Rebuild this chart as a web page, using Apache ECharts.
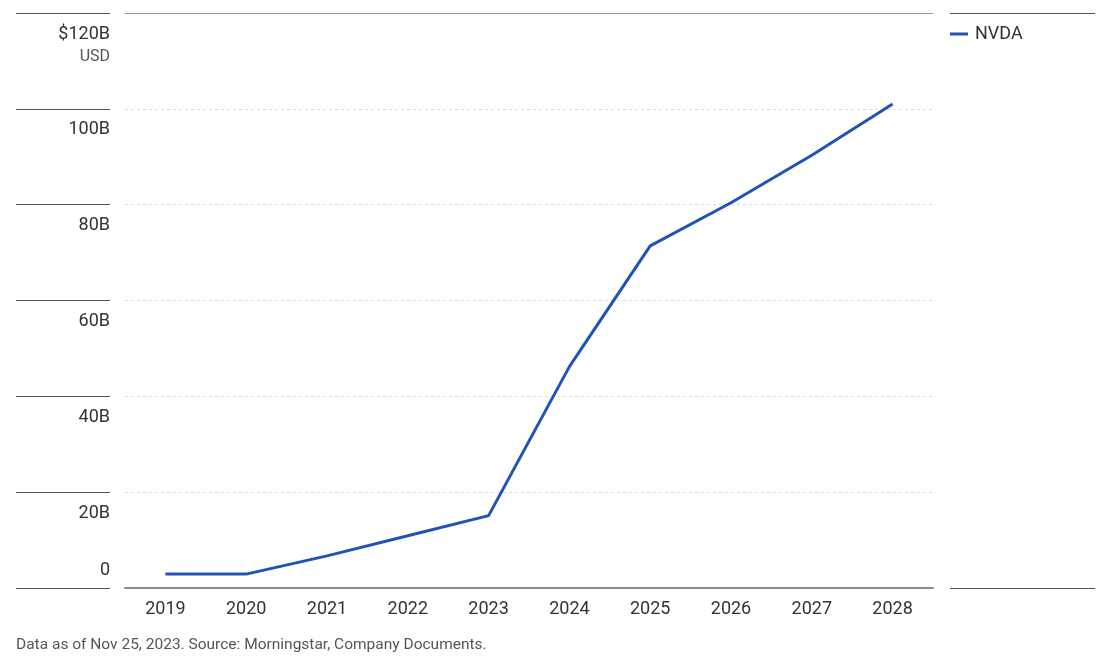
<!DOCTYPE html>
<html>
<head>
<meta charset="utf-8">
<script src="https://cdn.jsdelivr.net/npm/echarts@6/dist/echarts.min.js"></script>
<style>
html,body{margin:0;padding:0;background:#fff;}
#chart{width:1115px;height:665px;}
</style>
</head>
<body>
<div id="chart"></div>
<script>
const years = ['2019','2020','2021','2022','2023','2024','2025','2026','2027','2028'];
const nvdaValues = [2.9, 2.9, 6.7, 10.9, 15.1, 46.2, 71.4, 80.4, 90.3, 101.0];
const yTickValues = [0, 20, 40, 60, 80, 100, 120];
const yTickLabels = ['0', '20B', '40B', '60B', '80B', '100B', '$120B'];
const unitLabel = 'USD';
const seriesName = 'NVDA';
const footnote = 'Data as of Nov 25, 2023. Source: Morningstar, Company Documents.';

const FONT = 'Roboto, "Liberation Sans", sans-serif';
const chart = echarts.init(document.getElementById('chart'));

function yLabel(v) {
  const idx = yTickValues.indexOf(v);
  const txt = idx >= 0 ? yTickLabels[idx] : '';
  if (v === 0) return '{z|' + txt + '}';
  return '{a|' + txt + '}';
}
function unitFmt(v) {
  return v === 120 ? '{u|' + unitLabel + '}' : '';
}

chart.setOption({
  animation: false,
  textStyle: { fontFamily: FONT },
  title: {
    text: footnote,
    left: 16,
    top: 637,
    padding: 0,
    textStyle: { fontFamily: FONT, fontSize: 15.5, fontWeight: 'normal', color: '#555' }
  },
  legend: {
    data: [seriesName],
    left: 950,
    top: 25,
    padding: 0,
    icon: 'rect',
    itemWidth: 18,
    itemHeight: 3,
    itemGap: 10,
    textStyle: { fontFamily: FONT, fontSize: 18, color: '#333', padding: [0,0,0,2] }
  },
  grid: [
    { left: 125, right: 182, top: 13, bottom: 77, outerBoundsMode: 'none', containLabel: false },
    { left: 16, width: 94, top: 13, bottom: 77, outerBoundsMode: 'none', containLabel: false },
    { left: 950, right: 20, top: 13, bottom: 77, outerBoundsMode: 'none', containLabel: false }
  ],
  xAxis: [
    {
      type: 'category', gridIndex: 0, data: years, boundaryGap: true,
      axisLine: { show: true, lineStyle: { color: '#8c8c8c', width: 2 } },
      axisTick: { show: false },
      axisLabel: { fontFamily: FONT, fontSize: 18, color: '#333', margin: 12 }
    },
    {
      type: 'category', gridIndex: 0, data: years, position: 'top',
      axisLine: { show: true, lineStyle: { color: '#999', width: 1 } },
      axisTick: { show: false }, axisLabel: { show: false }
    },
    { type: 'value', gridIndex: 1, show: false },
    { type: 'value', gridIndex: 2, show: false }
  ],
  yAxis: [
    {
      type: 'value', gridIndex: 0, min: 0, max: 120, interval: 20,
      axisLine: { show: false }, axisTick: { show: false },
      splitLine: { show: true, lineStyle: { color: '#d9d9d9', type: [3, 3], width: 1 } },
      axisLabel: {
        margin: 15,
        formatter: yLabel,
        rich: {
          a: { fontFamily: FONT, fontSize: 18, color: '#333', lineHeight: 22, padding: [42, 0, 0, 0] },
          z: { fontFamily: FONT, fontSize: 18, color: '#333', lineHeight: 22, padding: [0, 0, 36, 0] }
        }
      }
    },
    {
      type: 'value', gridIndex: 1, min: 0, max: 120, interval: 20, position: 'right',
      axisLine: { show: false }, axisTick: { show: false },
      axisLabel: {
        inside: true, margin: 0, formatter: unitFmt,
        rich: {
          u: { fontFamily: FONT, fontSize: 16, color: '#555', lineHeight: 20, padding: [88, 0, 0, 0] }
        }
      },
      splitLine: { show: true, lineStyle: { color: '#555', width: 1 } }
    },
    {
      type: 'value', gridIndex: 2, min: 0, max: 120, interval: 120,
      axisLine: { show: false }, axisTick: { show: false }, axisLabel: { show: false },
      splitLine: { show: true, lineStyle: { color: '#555', width: 1 } }
    }
  ],
  series: [
    {
      name: seriesName,
      type: 'line',
      xAxisIndex: 0, yAxisIndex: 0,
      data: nvdaValues,
      symbol: 'none',
      lineStyle: { color: '#1f54b6', width: 3 },
      itemStyle: { color: '#1f54b6' }
    }
  ]
});
</script>
</body>
</html>
